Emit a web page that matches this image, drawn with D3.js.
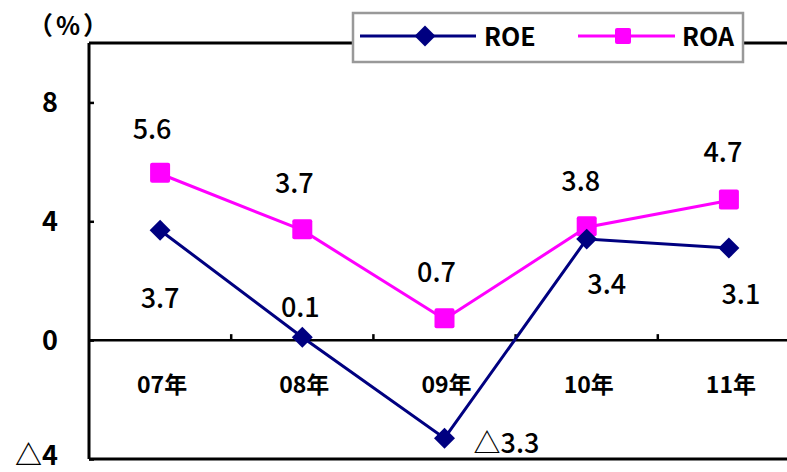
<!DOCTYPE html>
<html>
<head>
<meta charset="utf-8">
<script src="https://cdn.jsdelivr.net/npm/d3@7"></script>
<style>
  body { margin: 0; background: #fff; }
  svg text { font-family: "Noto Sans CJK JP", "Liberation Sans", sans-serif; }
</style>
</head>
<body>
<div id="io"></div>
<script>
const years = ['07年', '08年', '09年', '10年', '11年'];
const roe = [3.7, 0.1, -3.3, 3.4, 3.1];
const roa = [5.6, 3.7, 0.7, 3.8, 4.7];
const yTicks = [-4, 0, 4, 8];

const W = 787, H = 472;
const plotL = 89, plotT = 43, plotB = 459, bandW = 142.2;

const svg = d3.select('#io').append('svg').attr('width', W).attr('height', H);

const x = d3.scaleBand().domain(years).range([plotL, plotL + bandW * years.length]);
const cx = d => x(d) + x.bandwidth() / 2;
const y = d3.scaleLinear().domain([-4, 10]).range([plotB, plotT]);

const fmt = d => d < 0 ? '△' + Math.abs(d) : String(d);

// frame
svg.append('line').attr('x1', plotL).attr('x2', W).attr('y1', plotT).attr('y2', plotT)
  .attr('stroke', '#000').attr('stroke-width', 3);
svg.append('line').attr('x1', plotL).attr('x2', W).attr('y1', plotB).attr('y2', plotB)
  .attr('stroke', '#000').attr('stroke-width', 3);

// y axis
const yAxis = svg.append('g').attr('transform', `translate(${plotL},0)`)
  .call(d3.axisLeft(y).tickValues(yTicks).tickSize(-5).tickPadding(31).tickFormat(fmt));
yAxis.select('.domain').attr('stroke-width', 3).attr('d', `M0,${plotT}V${plotB}`);
yAxis.selectAll('.tick line').attr('stroke-width', 2.5);
yAxis.selectAll('.tick text').attr('font-size', 27).attr('font-weight', 600).attr('fill', '#000')
  .attr('dy', d => d < 0 ? '0.2em' : '0.34em');

// zero line with upward ticks at category edges
svg.append('line').attr('x1', plotL).attr('x2', W).attr('y1', y(0)).attr('y2', y(0))
  .attr('stroke', '#000').attr('stroke-width', 2.5);
svg.selectAll('.xtick').data(years.slice(1)).enter().append('line')
  .attr('x1', d => x(d)).attr('x2', d => x(d))
  .attr('y1', y(0)).attr('y2', y(0) - 6)
  .attr('stroke', '#000').attr('stroke-width', 2.5);
svg.selectAll('.xlab').data(years).enter().append('text')
  .attr('x', d => cx(d) + 2).attr('y', y(0) + 53)
  .attr('text-anchor', 'middle').attr('font-size', 23).attr('font-weight', 700)
  .text(d => d);

svg.append('text').attr('x', 28).attr('y', 35).attr('font-size', 25).attr('font-weight', 700)
  .attr('letter-spacing', 3).text('（%）');

// series
const line = d3.line().x((d, i) => cx(years[i])).y(d => y(d));
svg.append('path').datum(roa).attr('d', line).attr('fill', 'none')
  .attr('stroke', '#FF00FF').attr('stroke-width', 3);
svg.append('path').datum(roe).attr('d', line).attr('fill', 'none')
  .attr('stroke', '#000080').attr('stroke-width', 3);

svg.selectAll('.roa').data(roa).enter().append('rect')
  .attr('x', (d, i) => cx(years[i]) - 10).attr('y', d => y(d) - 11)
  .attr('width', 20).attr('height', 20).attr('rx', 2).attr('fill', '#FF00FF');
const diamond = d3.symbol().type(d3.symbolSquare).size(220);
svg.selectAll('.roe').data(roe).enter().append('path')
  .attr('d', diamond)
  .attr('transform', (d, i) => `translate(${cx(years[i])},${y(d)}) rotate(45)`)
  .attr('fill', '#000080');

// data labels
const roaOff = [[-8, -45], [-8, -47], [-8, -47], [-6, -46], [-6, -48]];
const roeOff = [[0, 68], [-2, -30], [62, 5], [20, 45], [12, 46]];
svg.selectAll('.roaLab').data(roa).enter().append('text')
  .attr('x', (d, i) => cx(years[i]) + roaOff[i][0]).attr('y', (d, i) => y(d) + roaOff[i][1] + 10)
  .attr('text-anchor', 'middle').attr('font-size', 27).attr('font-weight', 500).text(d => d.toFixed(1));
svg.selectAll('.roeLab').data(roe).enter().append('text')
  .attr('x', (d, i) => cx(years[i]) + roeOff[i][0]).attr('y', (d, i) => y(d) + roeOff[i][1] + 10)
  .attr('text-anchor', 'middle').attr('font-size', 27).attr('font-weight', 500).text(d => fmt(d.toFixed(1)));

// legend
const lg = svg.append('g');
lg.append('rect').attr('x', 353).attr('y', 13).attr('width', 390).attr('height', 49)
  .attr('fill', '#fff').attr('stroke', '#999').attr('stroke-width', 2.5);
lg.append('line').attr('x1', 360).attr('x2', 476).attr('y1', 36).attr('y2', 36)
  .attr('stroke', '#000080').attr('stroke-width', 3);
lg.append('path').attr('d', diamond).attr('transform', 'translate(425,36) rotate(45)').attr('fill', '#000080');
lg.append('text').attr('x', 484).attr('y', 46).attr('font-size', 25).attr('font-weight', 700).text('ROE');
lg.append('line').attr('x1', 578).attr('x2', 675).attr('y1', 36).attr('y2', 36)
  .attr('stroke', '#FF00FF').attr('stroke-width', 3);
lg.append('rect').attr('x', 615).attr('y', 28).attr('width', 16).attr('height', 16).attr('rx', 2).attr('fill', '#FF00FF');
lg.append('text').attr('x', 682).attr('y', 46).attr('font-size', 25).attr('font-weight', 700).text('ROA');
</script>
</body>
</html>
